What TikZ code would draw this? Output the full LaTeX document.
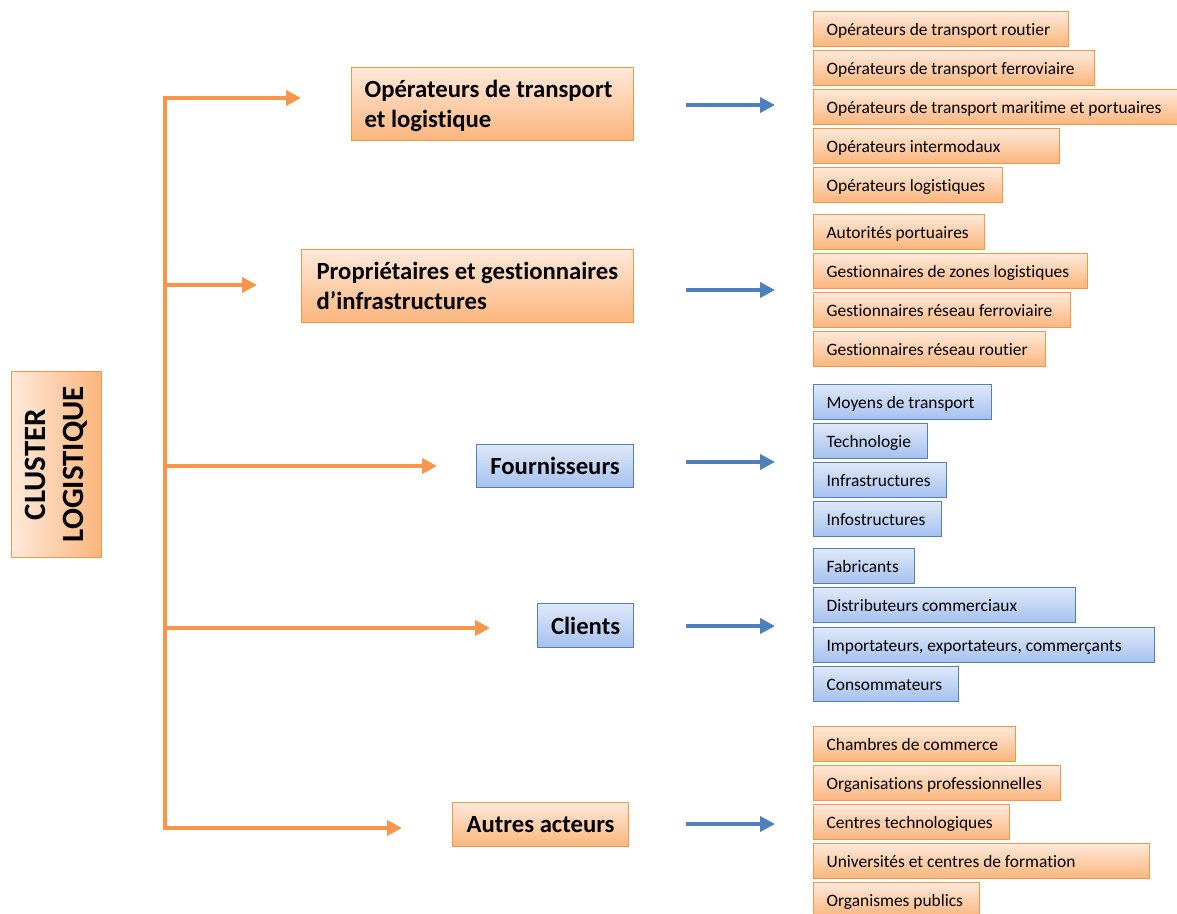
\documentclass[tikz,border=0pt]{standalone}
\usepackage{fontspec}
\setmainfont{Carlito}[Ligatures=CommonOff]
\usetikzlibrary{arrows.meta}
\definecolor{orgB}{HTML}{F79646}
\definecolor{orgT}{HTML}{FEE9DA}
\definecolor{orgD}{HTML}{FBB57C}
\definecolor{bluB}{HTML}{4F81BD}
\definecolor{bluT}{HTML}{DFE8F9}
\definecolor{bluD}{HTML}{A5C1F0}
\definecolor{arrB}{HTML}{4F7FBE}
\definecolor{arrO}{HTML}{F7964A}
\tikzset{
  leafo/.style={draw=orgB, top color=orgT, bottom color=orgD, line width=1.2pt,
    anchor=north west, minimum height=35pt, inner xsep=13pt, inner ysep=0pt,
    text height=14pt, text depth=2pt,
    font=\fontsize{17.4}{20}\selectfont},
  leafb/.style={leafo, draw=bluB, top color=bluT, bottom color=bluD},
  maino/.style={draw=orgB, top color=orgT, bottom color=orgD, line width=1.2pt,
    anchor=north west, inner ysep=0pt,
    font=\fontsize{24.7}{30}\selectfont\bfseries},
  mainb/.style={maino, draw=bluB, top color=bluT, bottom color=bluD},
  oarrow/.style={draw=arrO, line width=4pt, -{Triangle[length=15pt,width=15pt]}},
  barrow/.style={draw=arrB, line width=4pt, -{Triangle[length=15pt,width=15pt]}},
  oline/.style={draw=arrO, line width=4pt, line cap=rect},
}
\newcommand\leafbox[5]{\pgfmathsetmacro\lw{#4-813-26}%
  \node[#1] (#2) at (813,#3) {\makebox[\lw pt][l]{#5}};}
\newcommand\twolines[3]{\makebox[#1][l]{\raisebox{-2pt}[\height][\depth]{\begin{tabular}{@{}l@{}}#2\\#3\end{tabular}}}}
\begin{document}
\begin{tikzpicture}[x=1pt,y=-1pt]
\useasboundingbox (0,0) rectangle (1177,913);

% cluster
\node[draw=orgB, left color=orgT, right color=orgD, line width=1.2pt,
  anchor=north west, minimum width=186pt, minimum height=90pt, rotate=90,
  align=center, font=\fontsize{31}{38}\selectfont\bfseries]
  (cl) at (11,558) {CLUSTER\\LOGISTIQUE};

% main boxes
\node[maino, minimum height=73pt, inner xsep=13pt] (m1) at (351,67)
  {\twolines{256pt}{Opérateurs de transport}{et logistique}};
\node[maino, minimum height=73pt, inner xsep=15pt] (m2) at (301,249)
  {\twolines{302pt}{Propriétaires et gestionnaires}{d’infrastructures}};
\node[mainb, minimum width=157pt, minimum height=43pt] (m3) at (476,444)
  {Fournisseurs};
\node[mainb, minimum width=96pt, minimum height=44pt] (m4) at (537,603)
  {Clients};
\node[maino, minimum width=176pt, minimum height=44pt] (m5) at (452,802)
  {Autres acteurs};

% bracket
\coordinate (j1) at (165,98);
\coordinate (j2) at (165,285);
\coordinate (j3) at (165,466);
\coordinate (j4) at (165,628);
\coordinate (j5) at (165,828);
\coordinate (e1) at (301,98);
\coordinate (e2) at (257,285);
\coordinate (e3) at (437,466);
\coordinate (e4) at (490,628);
\coordinate (e5) at (402,828);
\draw[oline] (j1) -- (j5);
\foreach \i in {1,...,5} \draw[oarrow] (j\i) -- (e\i);

% blue arrows
\coordinate (b1) at (686,105);  \coordinate (c1) at (775,105);
\coordinate (b2) at (686,290);  \coordinate (c2) at (775,290);
\coordinate (b3) at (686,462);  \coordinate (c3) at (775,462);
\coordinate (b4) at (686,626);  \coordinate (c4) at (775,626);
\coordinate (b5) at (686,824);  \coordinate (c5) at (775,824);
\foreach \i in {1,...,5} \draw[barrow] (b\i) -- (c\i);

% leaves
\leafbox{leafo}{l1}{11}{1068}{Opérateurs de transport routier}
\leafbox{leafo}{l2}{50}{1094}{Opérateurs de transport ferroviaire}
\leafbox{leafo}{l3}{89}{1177}{Opérateurs de transport maritime et portuaires}
\leafbox{leafo}{l4}{128}{1059}{Opérateurs intermodaux}
\leafbox{leafo}{l5}{167}{1002}{Opérateurs logistiques}
\leafbox{leafo}{l6}{214}{984}{Autorités portuaires}
\leafbox{leafo}{l7}{253}{1087}{Gestionnaires de zones logistiques}
\leafbox{leafo}{l8}{292}{1070}{Gestionnaires réseau ferroviaire}
\leafbox{leafo}{l9}{331}{1045}{Gestionnaires réseau routier}
\leafbox{leafb}{l10}{384}{991}{Moyens de transport}
\leafbox{leafb}{l11}{423}{927}{Technologie}
\leafbox{leafb}{l12}{462}{946}{Infrastructures}
\leafbox{leafb}{l13}{501}{941}{Infostructures}
\leafbox{leafb}{l14}{548}{914}{Fabricants}
\leafbox{leafb}{l15}{587}{1075}{Distributeurs commerciaux}
\leafbox{leafb}{l16}{627}{1154}{Importateurs, exportateurs, commerçants}
\leafbox{leafb}{l17}{666}{958}{Consommateurs}
\leafbox{leafo}{l18}{726}{1015}{Chambres de commerce}
\leafbox{leafo}{l19}{765}{1060}{Organisations professionnelles}
\leafbox{leafo}{l20}{804}{1009}{Centres technologiques}
\leafbox{leafo}{l21}{843}{1149}{Universités et centres de formation}
\leafbox{leafo}{l22}{882}{979}{Organismes publics}
\end{tikzpicture}
\end{document}
